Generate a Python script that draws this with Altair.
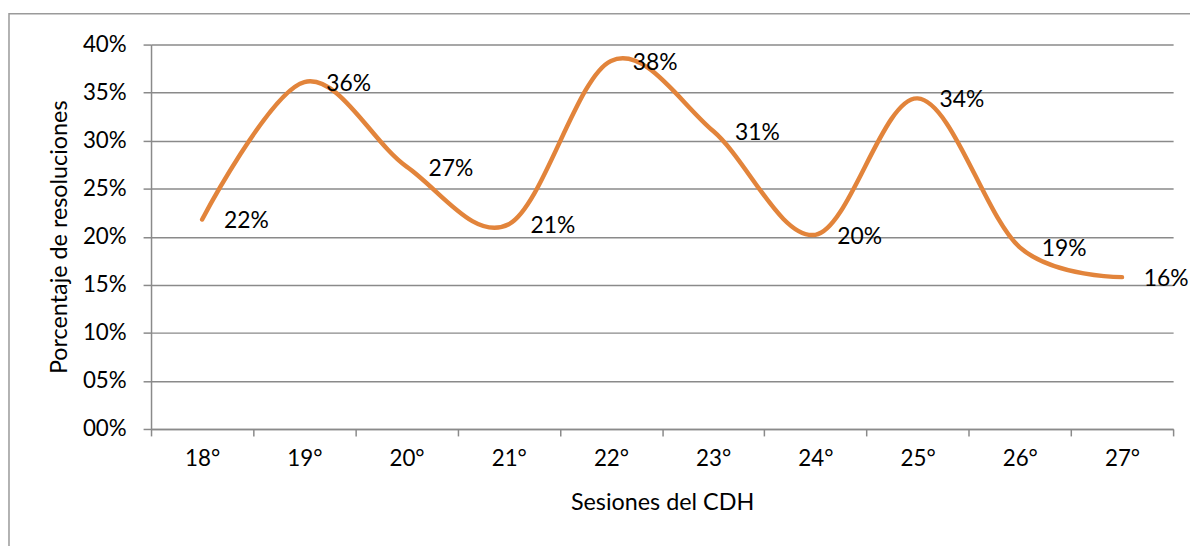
import altair as alt
import pandas as pd

sesiones = ["18°", "19°", "20°", "21°", "22°", "23°", "24°", "25°", "26°", "27°"]
porcentaje = [0.218, 0.361, 0.273, 0.213, 0.383, 0.310, 0.202, 0.344, 0.189, 0.158]
y_ticks = [0, 0.05, 0.10, 0.15, 0.20, 0.25, 0.30, 0.35, 0.40]

df = pd.DataFrame({"sesion": sesiones, "pct": porcentaje})

FONT = "Lato"
GRAY = "#8a8a8a"
ORANGE = "#E2843B"

x_enc = alt.X(
    "sesion:N",
    sort=sesiones,
    bandPosition=0.5,
    scale=alt.Scale(type="band", paddingInner=0, paddingOuter=0),
    axis=alt.Axis(
        title="Sesiones del CDH",
        labelAngle=0,
        tickBand="extent",
        tickSize=7,
        tickColor=GRAY,
        tickWidth=1.5,
        domainColor=GRAY,
        domainWidth=1.5,
        labelPadding=12,
        labelFontSize=22.5,
        labelFont=FONT,
        labelColor="#000000",
        titleFont=FONT,
        titleFontSize=23.5,
        titleFontWeight="normal",
        titleColor="#000000",
        titlePadding=21,
        grid=False,
    ),
)

y_enc = alt.Y(
    "pct:Q",
    scale=alt.Scale(domain=[0, 0.4], nice=False, zero=True),
    axis=alt.Axis(
        title="Porcentaje de resoluciones",
        values=y_ticks,
        labelExpr="datum.value < 0.099 ? '0' + format(datum.value, '.0%') : format(datum.value, '.0%')",
        tickSize=8,
        tickColor=GRAY,
        tickWidth=1.5,
        domainColor=GRAY,
        domainWidth=1.5,
        gridColor=GRAY,
        gridWidth=1.5,
        labelPadding=17,
        labelFontSize=22.5,
        labelFont=FONT,
        labelColor="#000000",
        titleFont=FONT,
        titleFontSize=23.5,
        titleFontWeight="normal",
        titleColor="#000000",
        titlePadding=11,
    ),
)

base = alt.Chart(df)

line = base.mark_line(
    interpolate="cardinal", color=ORANGE, strokeWidth=4.5, strokeCap="round", clip=False
).encode(x=x_enc, y=y_enc)

labels = base.mark_text(
    align="left", baseline="middle", dx=22, dy=2, font=FONT, fontSize=23, color="#000000"
).encode(
    x=alt.X("sesion:N", sort=sesiones, bandPosition=0.5),
    y="pct:Q",
    text=alt.Text("pct:Q", format=".0%"),
)

border = alt.Chart(alt.Data(values=[{}])).mark_rect(
    fill=None, stroke="#9a9a9a", strokeWidth=1.5, clip=False
).encode(
    x=alt.value(-143), x2=alt.value(1070), y=alt.value(-31), y2=alt.value(540)
)

chart = alt.layer(border, line, labels).properties(
    width=1029,
    height=387,
    autosize=alt.AutoSizeParams(type="none"),
    padding={"left": 144, "top": 35, "right": 17, "bottom": 116},
).configure_view(stroke=None)

chart.save("out.html", embed_options={"renderer": "svg", "actions": False})
